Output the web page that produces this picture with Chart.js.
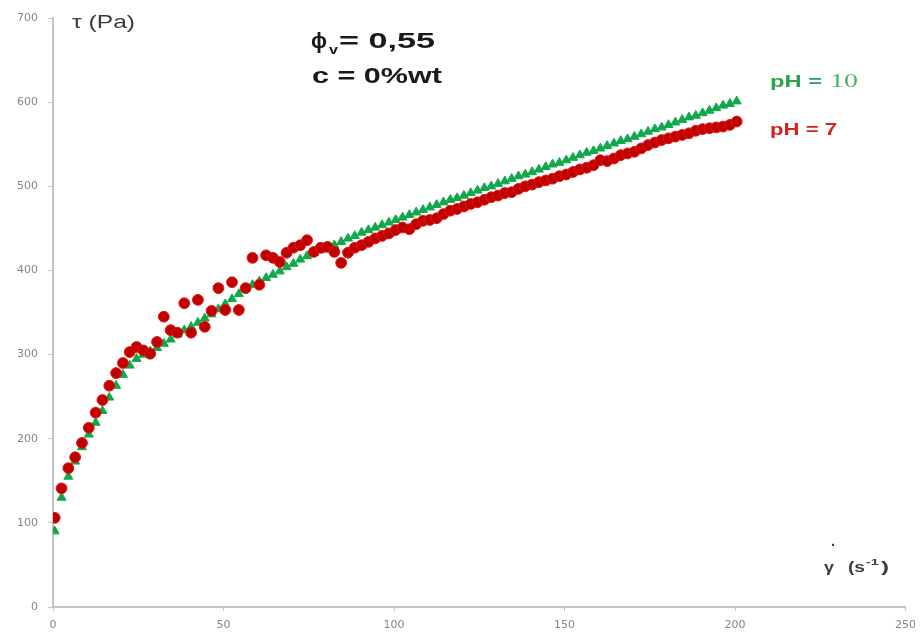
<!DOCTYPE html>
<html>
<head>
<meta charset="utf-8">
<script src="https://cdn.jsdelivr.net/npm/chart.js@4.4.1/dist/chart.umd.min.js"></script>
<style>
  html, body { margin: 0; padding: 0; background: #fff; }
  #wrap { width: 924px; height: 639px; }
</style>
</head>
<body>
<div id="wrap"><canvas id="rheoChart" width="924" height="639"></canvas></div>
<script>
// shear rate (s-1), shared by both series
const shearRate = [
  0.5, 2.5, 4.5, 6.5, 8.5, 10.5, 12.5, 14.5, 16.5, 18.5,
  20.5, 22.5, 24.5, 26.5, 28.5, 30.5, 32.5, 34.5, 36.5, 38.5,
  40.5, 42.5, 44.5, 46.5, 48.5, 50.5, 52.5, 54.5, 56.5, 58.5,
  60.5, 62.5, 64.5, 66.5, 68.5, 70.5, 72.5, 74.5, 76.5, 78.5,
  80.5, 82.5, 84.5, 86.5, 88.5, 90.5, 92.5, 94.5, 96.5, 98.5,
  100.5, 102.5, 104.5, 106.5, 108.5, 110.5, 112.5, 114.5, 116.5, 118.5,
  120.5, 122.5, 124.5, 126.5, 128.5, 130.5, 132.5, 134.5, 136.5, 138.5,
  140.5, 142.5, 144.5, 146.5, 148.5, 150.5, 152.5, 154.5, 156.5, 158.5,
  160.5, 162.5, 164.5, 166.5, 168.5, 170.5, 172.5, 174.5, 176.5, 178.5,
  180.5, 182.5, 184.5, 186.5, 188.5, 190.5, 192.5, 194.5, 196.5, 198.5,
  200.5
];

// shear stress (Pa), pH = 10
const stressPH10 = [
  90, 130, 155, 173, 190, 205, 219, 233, 249, 263,
  276, 287, 295, 300, 304, 308, 313, 318, 324, 329,
  333, 338, 343, 348, 354, 360, 366, 372, 378, 383,
  387, 391, 395, 399, 404, 408, 413, 417, 421, 424,
  427, 430, 434, 438, 441, 445, 448, 451, 454, 457,
  460, 463, 466, 469, 472, 475, 478, 481, 484, 486,
  489, 492, 495, 498, 500, 503, 506, 509, 512, 514,
  517, 520, 523, 526, 528, 531, 534, 537, 540, 542,
  545, 548, 551, 554, 556, 559, 562, 565, 568, 570,
  573, 576, 579, 582, 584, 587, 590, 593, 596, 598,
  601
];

// shear stress (Pa), pH = 7
const stressPH7 = [
  106, 141, 165, 178, 195, 213, 231, 246, 263, 278,
  290, 303, 309, 305, 301, 315, 345, 329, 326, 361,
  326, 365, 333, 352, 379, 353, 386, 353, 379, 415,
  383, 418, 415, 410, 421, 427, 430, 436, 422, 427,
  428, 422, 409, 421, 427, 430, 434, 438, 441, 444,
  448, 451, 449, 455, 459, 460, 462, 467, 471, 473,
  476, 479, 481, 484, 487, 489, 492, 493, 497, 500,
  502, 505, 507, 509, 512, 514, 517, 520, 522, 525,
  531, 530, 533, 537, 539, 541, 545, 549, 552, 555,
  557, 559, 561, 563, 566, 568, 569, 570, 571, 573,
  577
];

const xTicks = [0, 50, 100, 150, 200, 250];
const yTicks = [0, 100, 200, 300, 400, 500, 600, 700];

const toPoints = (xs, ys) => xs.map((x, i) => ({ x: x, y: ys[i] }));

// draws text squeezed/stretched to a given width (the source picture is wide)
function fitText(ctx, text, x, y, width) {
  const w = ctx.measureText(text).width;
  ctx.save();
  ctx.translate(x, y);
  ctx.scale(width / w, 1);
  ctx.fillText(text, 0, 0);
  ctx.restore();
}

const chartLabels = {
  id: "chartLabels",
  afterDraw(chart) {
    const ctx = chart.ctx;
    ctx.save();
    ctx.textAlign = "left";
    ctx.textBaseline = "alphabetic";

    // y axis title
    ctx.fillStyle = "#3c3c3c";
    ctx.font = "18px 'Liberation Sans', Arial, sans-serif";
    fitText(ctx, "τ (Pa)", 72, 28, 63);

    // sample description
    ctx.fillStyle = "#1a1a1a";
    ctx.font = "bold 22px 'Liberation Sans', Arial, sans-serif";
    fitText(ctx, "ϕ", 311, 48, 16);
    fitText(ctx, "= 0,55", 339, 48, 96);
    fitText(ctx, "c = 0%wt", 312, 83, 130);
    ctx.font = "bold 13px 'Liberation Sans', Arial, sans-serif";
    fitText(ctx, "v", 329, 54, 9);

    // series labels
    ctx.fillStyle = "#2fa050";
    ctx.font = "bold 17px 'Liberation Sans', Arial, sans-serif";
    fitText(ctx, "pH =", 770, 87, 52);
    ctx.fillStyle = "#4cb565";
    ctx.font = "18px 'Liberation Serif', 'Times New Roman', serif";
    fitText(ctx, "10", 830, 87, 28);

    ctx.fillStyle = "#d42222";
    ctx.font = "bold 17px 'Liberation Sans', Arial, sans-serif";
    fitText(ctx, "pH = 7", 770, 135, 67);

    // x axis title
    ctx.fillStyle = "#3c3c3c";
    ctx.font = "bold 15px 'Liberation Sans', Arial, sans-serif";
    fitText(ctx, ".", 831, 546, 4);
    fitText(ctx, "γ", 824, 572, 10);
    fitText(ctx, "(s", 848, 572, 17);
    fitText(ctx, ")", 881, 572, 8);
    ctx.font = "bold 9px 'Liberation Sans', Arial, sans-serif";
    fitText(ctx, "-1", 866, 565, 13);

    ctx.restore();
  }
};

const ctx = document.getElementById("rheoChart").getContext("2d");

new Chart(ctx, {
  type: "scatter",
  data: {
    datasets: [
      {
        label: "pH = 7",
        data: toPoints(shearRate, stressPH7),
        pointStyle: "circle",
        pointRadius: 5.4,
        backgroundColor: "#c00000",
        borderColor: "#e01515",
        borderWidth: 1,
        showLine: false
      },
      {
        label: "pH = 10",
        data: toPoints(shearRate, stressPH10),
        pointStyle: "triangle",
        pointRadius: 5.2,
        backgroundColor: "#10a84a",
        borderColor: "#10a84a",
        borderWidth: 1,
        showLine: false
      }
    ]
  },
  options: {
    responsive: false,
    animation: false,
    devicePixelRatio: 1,
    layout: { padding: { top: 18, right: 17, left: 0, bottom: 0 } },
    plugins: {
      legend: { display: false },
      tooltip: { enabled: false },
      title: { display: false }
    },
    scales: {
      x: {
        type: "linear",
        min: 0,
        max: 250,
        afterFit: (scale) => { scale.height = 32; },
        afterBuildTicks: (scale) => { scale.ticks = xTicks.map(v => ({ value: v })); },
        border: { display: true, color: "#c4c4c4", width: 2 },
        grid: { drawOnChartArea: false, drawTicks: true, tickLength: 4, color: "#c4c4c4" },
        ticks: {
          padding: 8,
          color: "#858585",
          maxRotation: 0,
          font: { size: 11, family: "'DejaVu Sans', sans-serif" }
        }
      },
      y: {
        type: "linear",
        min: 0,
        max: 700,
        afterFit: (scale) => { scale.width = 53; },
        afterBuildTicks: (scale) => { scale.ticks = yTicks.map(v => ({ value: v })); },
        border: { display: true, color: "#c4c4c4", width: 2 },
        grid: { drawOnChartArea: false, drawTicks: true, tickLength: 5, color: "#c4c4c4" },
        ticks: {
          padding: 10,
          color: "#858585",
          font: { size: 11, family: "'DejaVu Sans', sans-serif" }
        }
      }
    }
  },
  plugins: [chartLabels]
});
</script>
</body>
</html>
